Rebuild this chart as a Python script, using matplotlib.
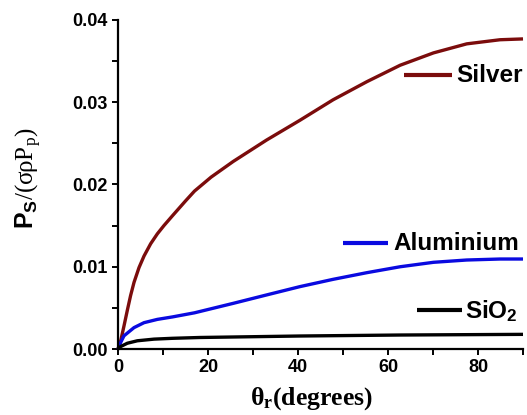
import matplotlib
matplotlib.use("Agg")
import matplotlib.pyplot as plt
from matplotlib.ticker import MultipleLocator

plt.rcParams['mathtext.fontset'] = 'custom'
plt.rcParams['mathtext.rm'] = 'Liberation Serif'
plt.rcParams['mathtext.bf'] = 'Liberation Sans:bold'
plt.rcParams['mathtext.it'] = 'Liberation Serif:italic'
plt.rcParams['mathtext.sf'] = 'Liberation Sans:bold'
plt.rcParams['mathtext.cal'] = 'Liberation Serif:bold'

# ---- data ----
silver_theta = [0, 0.6, 1.33, 2.07, 2.8, 3.56, 4.67, 5.78, 7.26, 8.74, 10.2, 12.1,
                15.0, 17.0, 20.7, 25.6, 33.0, 40.4, 47.8, 55.3, 62.7, 70.1, 77.5,
                84.9, 90]
silver_vals = [0, 0.0010, 0.0028, 0.0047, 0.0065, 0.0081, 0.0099, 0.0113, 0.0128,
               0.0140, 0.0150, 0.0162, 0.0180, 0.0192, 0.0209, 0.0228, 0.0254,
               0.0278, 0.0303, 0.0325, 0.0345, 0.0360, 0.0371, 0.0376, 0.0377]

alu_theta = [0, 0.6, 1.33, 2.44, 3.56, 5.78, 8.74, 12.1, 17.0, 25.6, 33.0,
             40.4, 47.8, 55.3, 62.7, 70.1, 77.5, 84.9, 90]
alu_vals = [0, 0.0008, 0.0016, 0.0021, 0.0026, 0.0032, 0.0036, 0.0039, 0.0044,
            0.00555, 0.00657, 0.00758, 0.00847, 0.00928, 0.0100, 0.01054,
            0.01082, 0.01094, 0.01094]

sio2_theta = [0, 0.6, 2.07, 4.3, 8.0, 12.1, 18.2, 40.4, 62.7, 90]
sio2_vals = [0, 0.0003, 0.0007, 0.0010, 0.0012, 0.0013, 0.0014, 0.00158,
             0.0017, 0.00178]

series_names = ["Silver", "Aluminium", "SiO$_\\mathregular{2}$"]
series_colors = ["#7b0c0c", "#0a0ae0", "#000000"]

x_ticks = [0, 20, 40, 60, 80]
y_ticks = [0.00, 0.01, 0.02, 0.03, 0.04]
y_tick_labels = ["0.00", "0.01", "0.02", "0.03", "0.04"]

# ---- figure ----
W, H = 527, 415
fig = plt.figure(figsize=(W / 100, H / 100), dpi=100)
ax = fig.add_axes([118 / W, 1 - 349 / H, (523 - 118) / W, (349 - 20) / H])

datasets = [(silver_theta, silver_vals), (alu_theta, alu_vals), (sio2_theta, sio2_vals)]
for (xs, ys), c in zip(datasets, series_colors):
    ax.plot(xs, ys, color=c, lw=2.4, solid_capstyle='butt',
            solid_joinstyle='round', clip_on=False)

ax.set_xlim(0, 90)
ax.set_ylim(0, 0.04)
ax.spines['top'].set_visible(False)
ax.spines['right'].set_visible(False)
for s in ('left', 'bottom'):
    ax.spines[s].set_linewidth(1.6)

ax.set_xticks(x_ticks)
ax.set_yticks(y_ticks)
ax.set_yticklabels(y_tick_labels)
ax.xaxis.set_minor_locator(MultipleLocator(10))
ax.yaxis.set_minor_locator(MultipleLocator(0.005))
ax.tick_params(which='both', direction='out', width=1.4, labelsize=13)
ax.tick_params(which='major', length=4.5)
ax.tick_params(which='minor', length=4)
ax.tick_params(axis='x', pad=3)
ax.tick_params(axis='y', pad=3)
for lab in ax.get_xticklabels() + ax.get_yticklabels():
    lab.set_fontfamily('Liberation Sans')
    lab.set_fontweight('bold')

# in-plot labels (legend style)
leg_pos = [((0.706, 0.825), 0.833, 0.835, 0.8125),
           ((0.556, 0.667), 0.322, 0.679, 0.301),
           ((0.738, 0.849), 0.1185, 0.857, 0.093)]
for name, c, ((x0, x1), yl, xt, yt) in zip(series_names, series_colors, leg_pos):
    ax.plot([x0, x1], [yl, yl], color=c, lw=3, transform=ax.transAxes,
            solid_capstyle='butt', clip_on=False)
    ax.text(xt, yt, name, transform=ax.transAxes, fontsize=17.5,
            fontfamily='Liberation Sans', fontweight='bold', ha='left',
            va='baseline', color='black')

# y label
fig.text(29 / W, 1 - 178 / H, r'$\mathbf{P_S}\mathrm{/(\sigma\rho P_p)}$',
         rotation=90, ha='center', va='center', fontsize=18)

# x label
fig.text(250 / W, 1 - 405 / H, r'$\mathcal{\theta}_\mathcal{r}\mathcal{(degrees)}$',
         fontsize=18.5, ha='left', va='baseline')

fig.savefig("out.png", dpi=100)
